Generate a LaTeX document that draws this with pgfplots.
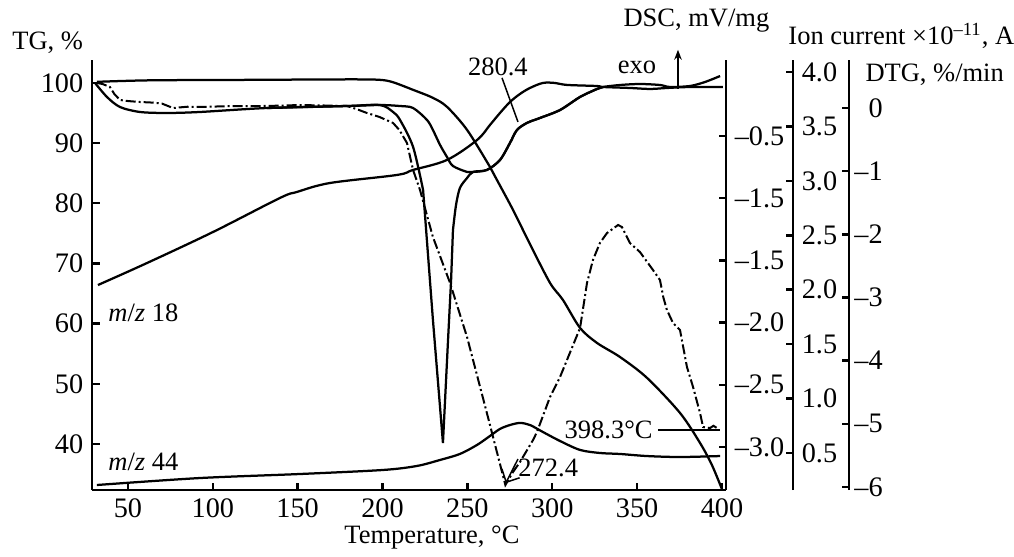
\documentclass[border=0pt]{standalone}
\usepackage{fontspec}
\setmainfont{Liberation Serif}
\usepackage{pgfplots}
\pgfplotsset{compat=1.18}
\usetikzlibrary{arrows.meta}

\pgfplotsset{
  base/.style={
    scale only axis, width=253.6pt, height=172pt,
    at={(36.8pt,26.4pt)}, anchor=south west,
    xmin=28.8, xmax=402.4,
    clip=false,
    axis line style={line width=1.1pt},
    every tick/.style={line width=1pt, black},
    major tick length=3pt,
    /pgf/number format/assume math mode=true,
    tick label style={font=\fontsize{11.3}{13}\selectfont},
  },
  curve/.style={black, line width=0.9pt, no markers},
}
\tikzset{lab/.style={font=\fontsize{10.6}{12}\selectfont, inner sep=0pt}}

\begin{document}
\begin{tikzpicture}
\useasboundingbox (0,0) rectangle (405.6pt,222.4pt);

% TG axis (left) with temperature axis
\begin{axis}[base,
  axis x line*=bottom, axis y line*=left, tick align=inside,
  ymin=32.36, ymax=103.8,
  xtick={50,100,...,400}, ytick={40,50,...,100},
]
\addplot[curve, smooth, tension=0.5] coordinates {
  (31.7,100.17) (63.0,100.42) (121.9,100.5) (180.8,100.58) (198.5,100.5)
  (206.2,100.1) (218.0,98.84) (229.7,97.51) (238.0,96.01) (249.8,92.19)
  (263.3,86.04) (267.4,83.88) (276.9,78.89) (286.9,73.2) (298.7,66.76)
  (306.3,63.94) (316.4,59.28) (326.4,56.79) (339.9,54.46) (355.8,51.0)
  (375.3,45.16) (387.1,40.17) (394.1,36.51) (400.2,32.36)
};
\node[lab, anchor=west] at (axis cs:-18.4,106.65) {TG, \%};
\node[lab, anchor=west] at (axis cs:341.7,110.3) {DSC, mV/mg};
\node[lab, anchor=west] at (axis cs:438.9,107.8) {Ion current ×10\textsuperscript{–11}, A};
\node[lab, anchor=west] at (axis cs:484.3,101.3) {DTG, \%/min};
\node[lab] at (axis cs:349.9,102.5) {exo};
\draw[-{Stealth[length=4pt,width=3pt]}, line width=0.8pt] (axis cs:374.1,99.0) -- (axis cs:374.1,105.5);
\node[lab] at (axis cs:268.0,102.66) {280.4};
\draw[line width=0.6pt] (axis cs:270.4,100.83) -- (axis cs:279.8,93.52);
\node[lab, anchor=east] at (axis cs:359.4,42.33) {398.3°C};
\draw[line width=0.6pt] (axis cs:362.3,42.33) -- (axis cs:398.9,42.33);
\node[lab, anchor=west] at (axis cs:279.8,36.0) {272.4};
\draw[-{Straight Barb[length=4pt]}, line width=0.6pt] (axis cs:279.8,37.5) -- (axis cs:272.6,33.5);
\node[lab, anchor=west] at (axis cs:38.2,61.8) {\textit{m}/\textit{z} 18};
\node[lab, anchor=west] at (axis cs:38.2,37.0) {\textit{m}/\textit{z} 44};
\node[lab] at (axis cs:229.1,24.5) {Temperature, °C};
\end{axis}

% DSC axis (right edge of the frame)
\begin{axis}[base,
  axis y line*=right, axis x line=none, tick align=inside,
  ymin=-3.346, ymax=0.111,
  ytick={-0.5,-1,-1.5,-2,-2.5,-3},
  yticklabels={–0.5,–1.5,–1.5,–2.0,–2.5,–3.0},
]
% sharp endotherm
\addplot[curve, smooth, tension=0.5] coordinates {
  (30.6,-0.074) (37.6,-0.186) (45.3,-0.267) (57.1,-0.307) (73.0,-0.315)
  (92.4,-0.307) (131.9,-0.275) (179.1,-0.259) (198.5,-0.251) (206.2,-0.307)
  (210.3,-0.371) (218.0,-0.588) (223.9,-0.934)
};
\addplot[curve] coordinates {
  (223.9,-0.934) (229.7,-1.979) (235.6,-2.968) (238.6,-2.140) (240.4,-1.658) (241.5,-1.256)
};
\addplot[curve, smooth, tension=0.5] coordinates {
  (241.5,-1.256) (243.3,-1.055) (245.6,-0.918) (249.8,-0.838) (253.3,-0.789)
  (261.5,-0.773) (269.2,-0.693) (275.1,-0.556) (279.2,-0.452) (285.1,-0.395)
  (292.8,-0.355) (304.6,-0.291) (316.4,-0.186) (326.4,-0.122) (329.9,-0.106)
  (339.9,-0.090) (351.7,-0.082) (363.5,-0.090) (369.4,-0.106) (381.2,-0.098)
  (390.0,-0.066) (398.9,-0.018)
};
% broad trace with 280.4 shoulder
\addplot[curve, smooth, tension=0.5] coordinates {
  (131.9,-0.275) (179.1,-0.259) (198.5,-0.251) (210.3,-0.259) (218.0,-0.275)
  (226.2,-0.371) (229.7,-0.452) (233.9,-0.572) (238.0,-0.669) (241.5,-0.741)
  (249.8,-0.789) (253.3,-0.789) (261.5,-0.773) (269.2,-0.693) (275.1,-0.556)
  (279.2,-0.452) (285.1,-0.395) (292.8,-0.355) (304.6,-0.291) (316.4,-0.186)
  (326.4,-0.122) (329.9,-0.106)
};
\end{axis}

% Ion current axis
\begin{axis}[base, width=280.4pt, xmax=441.9,
  axis y line*=right, axis x line=none, tick align=inside,
  ymin=0.160, ymax=4.110,
  ytick={0.5,1,...,4},
  yticklabel style={/pgf/number format/.cd, fixed, fixed zerofill, precision=1},
]
% m/z 18
\addplot[curve, smooth, tension=0.55] coordinates {
  (32.3,2.043) (61.2,2.245) (100.1,2.530) (139.6,2.843) (149.6,2.898)
  (169.0,2.980) (208.5,3.054) (218.0,3.100) (238.0,3.192) (255.7,3.375)
  (263.3,3.513) (269.2,3.623) (275.1,3.724) (281.0,3.798) (286.9,3.853)
  (294.5,3.899) (301.6,3.899) (308.7,3.881) (326.4,3.871) (329.9,3.862)
  (345.8,3.853) (357.6,3.844) (367.6,3.853) (381.2,3.862) (400.5,3.862)
};
% m/z 44
\addplot[curve, smooth, tension=0.5] coordinates {
  (31.7,0.206) (92.4,0.270) (151.4,0.307) (200.3,0.344) (220.3,0.381)
  (233.9,0.436) (245.6,0.491) (255.7,0.574) (263.3,0.656) (269.2,0.721)
  (275.1,0.757) (281.0,0.776) (286.9,0.757) (294.5,0.693) (304.6,0.610)
  (316.4,0.528) (328.1,0.500) (339.9,0.491) (355.8,0.472) (375.3,0.463)
  (398.9,0.472)
};
\end{axis}

% DTG axis
\begin{axis}[base, width=302.8pt, xmax=474.9,
  axis y line*=right, axis x line=none, tick align=inside,
  ymin=-6.047, ymax=0.760,
  ytick={0,-1,...,-6},
  yticklabels={0,–1,–2,–3,–4,–5,–6},
  yticklabel style={anchor=east, xshift=17pt},
]
\addplot[curve, line width=0.8pt, dash pattern=on 4pt off 1.2pt on 0.8pt off 1.2pt] coordinates {
  (31.7,0.396) (35.0,0.380) (39.4,0.332) (42.0,0.22) (45.3,0.127) (50,0.11)
  (57.1,0.095) (65,0.085) (70,0.07) (76.5,0.0) (85,0.02) (92.4,0.016)
  (110,0.03) (131.9,0.032) (151.4,0.047) (165,0.04) (179.1,0.032) (185,-0.02)
  (190.8,-0.079) (198,-0.14) (206.2,-0.237) (210,-0.35) (214.4,-0.554)
  (218.0,-0.981) (222.1,-1.298) (229.7,-2.042) (239.8,-2.770) (249.8,-3.625)
  (261.5,-4.828) (272.4,-5.968) (276.9,-5.762) (281.0,-5.604) (288.7,-5.256)
  (291.0,-5.129) (298.7,-4.575) (304.6,-4.258) (316.4,-3.483) (320.5,-2.770)
  (324.0,-2.406) (328.1,-2.137) (332.3,-1.979) (338.8,-1.852) (341.1,-1.884)
  (345.8,-2.137) (351.7,-2.280) (359.4,-2.565) (363.5,-2.723) (365.5,-3.0)
  (367.6,-3.198) (371.2,-3.404) (375.3,-3.514) (379.4,-4.100) (383.0,-4.417)
  (387.1,-4.828) (388.9,-5.050) (393.0,-5.066) (395.0,-5.03) (397.1,-5.066)
};
\end{axis}
\end{tikzpicture}
\end{document}
